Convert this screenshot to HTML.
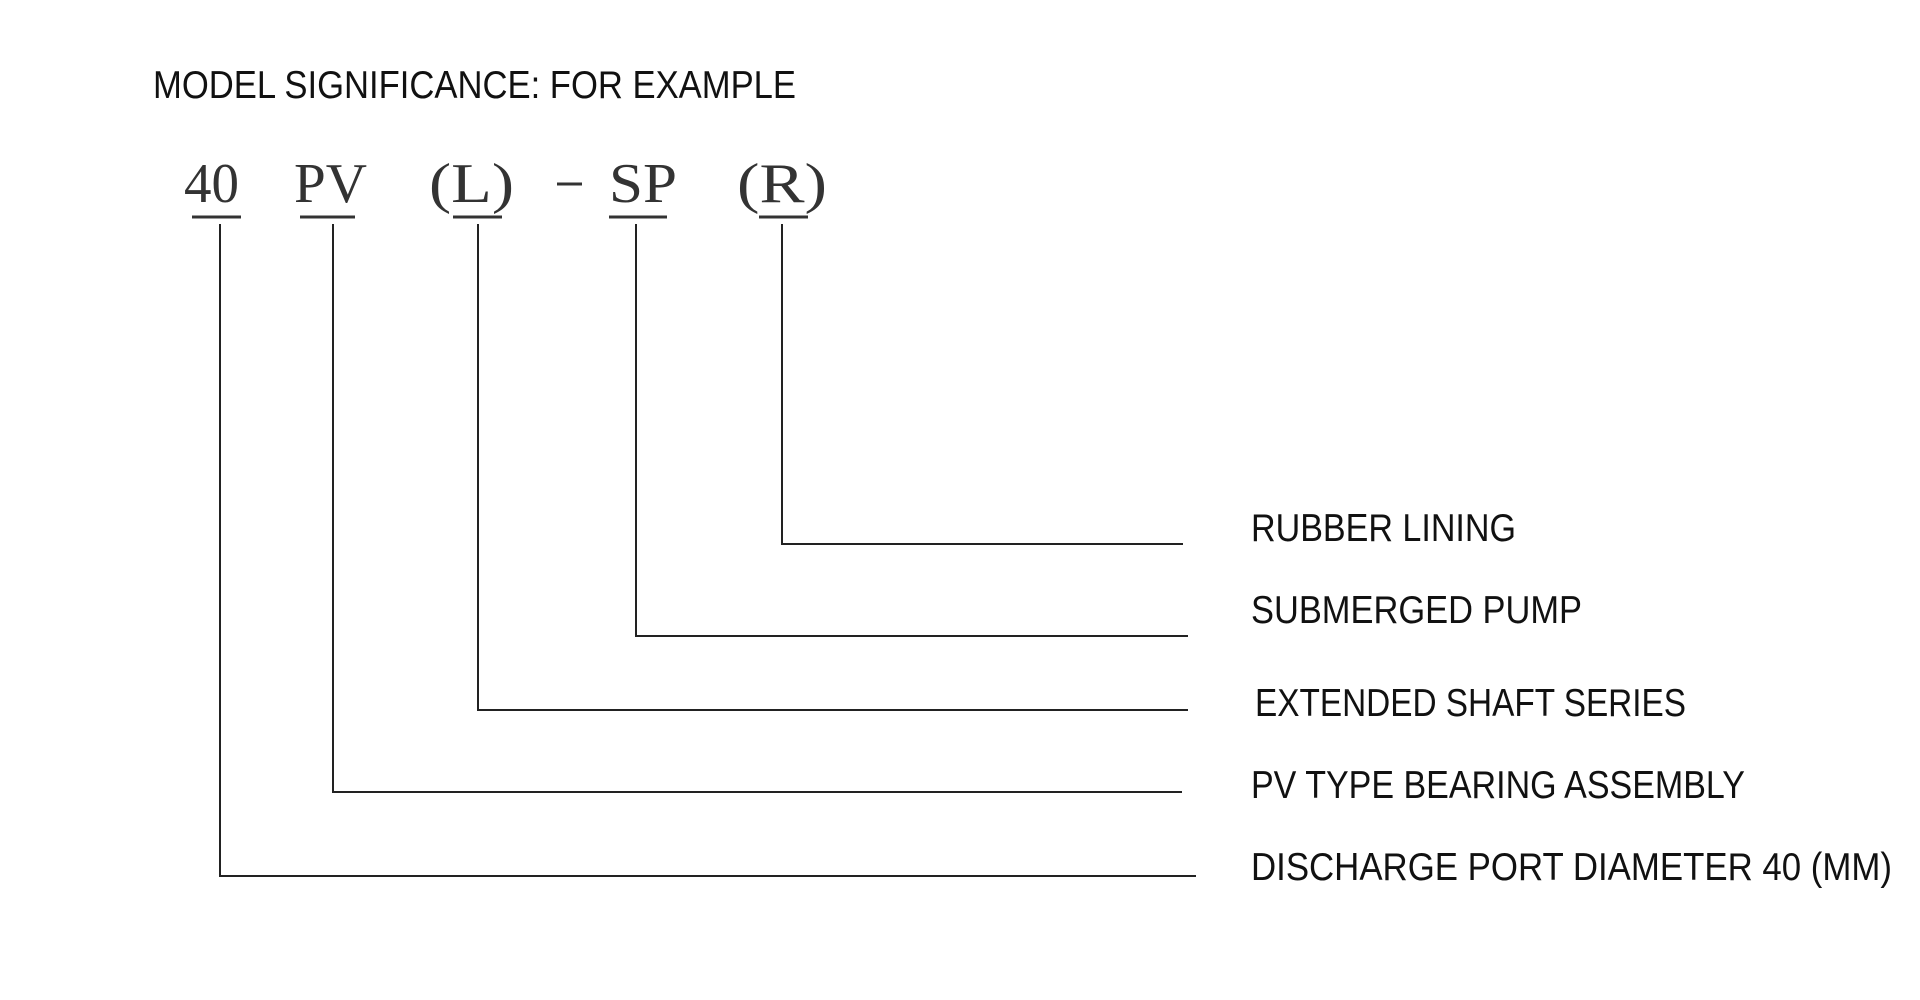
<!DOCTYPE html>
<html><head><meta charset="utf-8"><style>html,body{margin:0;padding:0;background:#fff}svg{display:block}</style></head>
<body>
<svg width="1920" height="1000" viewBox="0 0 1920 1000" xmlns="http://www.w3.org/2000/svg">
<g font-family="Liberation Sans, sans-serif" font-size="39" fill="#111">
<text x="153" y="98" textLength="643" lengthAdjust="spacingAndGlyphs">MODEL SIGNIFICANCE: FOR EXAMPLE</text>
<text x="1251" y="541" textLength="265" lengthAdjust="spacingAndGlyphs">RUBBER LINING</text>
<text x="1251" y="623" textLength="331" lengthAdjust="spacingAndGlyphs">SUBMERGED PUMP</text>
<text x="1255" y="716" textLength="431" lengthAdjust="spacingAndGlyphs">EXTENDED SHAFT SERIES</text>
<text x="1251" y="798" textLength="494" lengthAdjust="spacingAndGlyphs">PV TYPE BEARING ASSEMBLY</text>
<text x="1251" y="880" textLength="641" lengthAdjust="spacingAndGlyphs">DISCHARGE PORT DIAMETER 40 (MM)</text>
</g>
<g font-family="Liberation Serif, serif" font-size="56" fill="#333">
<text x="184" y="202" textLength="55" lengthAdjust="spacingAndGlyphs">40</text>
<text x="294" y="202" textLength="73" lengthAdjust="spacingAndGlyphs">PV</text>
<text x="429" y="202" textLength="85" lengthAdjust="spacingAndGlyphs">(L)</text>
<text x="609" y="202" textLength="68" lengthAdjust="spacingAndGlyphs">SP</text>
<text x="737" y="202" textLength="90" lengthAdjust="spacingAndGlyphs">(R)</text>
</g>
<g stroke="#333" stroke-width="3" fill="none">
<line x1="557" y1="184" x2="582" y2="184"/>
<line x1="192" y1="217" x2="241" y2="217"/>
<line x1="300" y1="217" x2="355" y2="217"/>
<line x1="453" y1="217" x2="502" y2="217"/>
<line x1="609" y1="217" x2="667" y2="217"/>
<line x1="759" y1="217" x2="808" y2="217"/>
</g>
<g stroke="#222" stroke-width="2" fill="none">
<polyline points="220,224 220,876 1196,876"/>
<polyline points="333,224 333,792 1182,792"/>
<polyline points="478,224 478,710 1188,710"/>
<polyline points="636,224 636,636 1188,636"/>
<polyline points="782,224 782,544 1183,544"/>
</g>
</svg>
</body></html>
